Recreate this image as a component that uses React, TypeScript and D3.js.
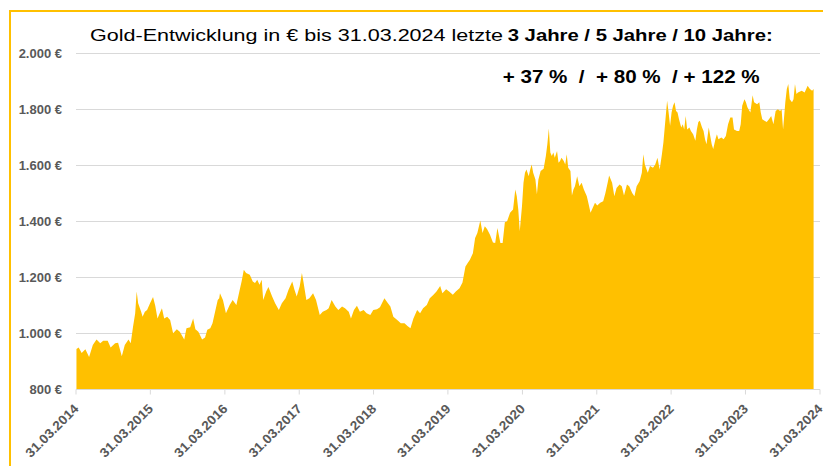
import React from "react";
import * as d3 from "d3";

// Gold price in EUR per ounce, [decimal year, price]
const goldSeries: [number, number][] = [
  [2014.25, 945], [2014.28, 950], [2014.32, 930], [2014.37, 944], [2014.42, 916], [2014.47, 959],
  [2014.52, 979], [2014.57, 965], [2014.61, 974], [2014.67, 974], [2014.71, 950], [2014.77, 965],
  [2014.81, 967], [2014.86, 919], [2014.90, 959], [2014.95, 979], [2014.98, 965], [2015.01, 1022],
  [2015.04, 1072], [2015.06, 1150], [2015.08, 1108], [2015.12, 1078], [2015.14, 1060], [2015.17, 1078],
  [2015.20, 1084], [2015.24, 1108], [2015.28, 1130], [2015.31, 1099], [2015.34, 1054], [2015.37, 1072],
  [2015.40, 1090], [2015.43, 1054], [2015.47, 1060], [2015.51, 1048], [2015.55, 1001], [2015.60, 1015],
  [2015.64, 1006], [2015.70, 979], [2015.73, 1019], [2015.78, 1022], [2015.82, 1054], [2015.85, 1015],
  [2015.89, 1006], [2015.94, 979], [2015.98, 986], [2016.01, 1013], [2016.05, 1019], [2016.08, 1037],
  [2016.11, 1072], [2016.15, 1120], [2016.17, 1126], [2016.18, 1144], [2016.22, 1120], [2016.26, 1072],
  [2016.31, 1102], [2016.35, 1120], [2016.40, 1102], [2016.44, 1150], [2016.47, 1186], [2016.50, 1228],
  [2016.53, 1216], [2016.58, 1210], [2016.62, 1186], [2016.65, 1180], [2016.68, 1192], [2016.71, 1174],
  [2016.74, 1192], [2016.76, 1120], [2016.80, 1150], [2016.83, 1166], [2016.88, 1132], [2016.92, 1108],
  [2016.97, 1084], [2017.01, 1108], [2017.06, 1126], [2017.10, 1156], [2017.15, 1186], [2017.18, 1156],
  [2017.21, 1132], [2017.25, 1168], [2017.28, 1216], [2017.30, 1186], [2017.34, 1120], [2017.38, 1126],
  [2017.43, 1144], [2017.47, 1120], [2017.52, 1066], [2017.56, 1078], [2017.61, 1084], [2017.64, 1090],
  [2017.68, 1120], [2017.73, 1096], [2017.77, 1084], [2017.82, 1096], [2017.86, 1090], [2017.91, 1078],
  [2017.94, 1054], [2017.98, 1084], [2018.02, 1099], [2018.06, 1078], [2018.11, 1084], [2018.15, 1072],
  [2018.20, 1066], [2018.24, 1084], [2018.29, 1087], [2018.33, 1094], [2018.39, 1126], [2018.43, 1111],
  [2018.47, 1096], [2018.51, 1060], [2018.57, 1046], [2018.61, 1037], [2018.66, 1037], [2018.70, 1027],
  [2018.74, 1019], [2018.78, 1054], [2018.83, 1084], [2018.87, 1072], [2018.91, 1090], [2018.96, 1102],
  [2019.00, 1126], [2019.05, 1138], [2019.09, 1150], [2019.14, 1170], [2019.17, 1144], [2019.22, 1158],
  [2019.26, 1150], [2019.31, 1138], [2019.35, 1150], [2019.40, 1162], [2019.44, 1182], [2019.48, 1239],
  [2019.51, 1252], [2019.54, 1263], [2019.58, 1287], [2019.61, 1341], [2019.64, 1359], [2019.68, 1404],
  [2019.71, 1359], [2019.74, 1383], [2019.77, 1373], [2019.81, 1353], [2019.85, 1325], [2019.88, 1323],
  [2019.91, 1377], [2019.95, 1323], [2019.98, 1323], [2020.01, 1397], [2020.04, 1401], [2020.08, 1431],
  [2020.12, 1443], [2020.15, 1514], [2020.17, 1490], [2020.19, 1443], [2020.21, 1365], [2020.24, 1455],
  [2020.26, 1538], [2020.28, 1574], [2020.30, 1586], [2020.33, 1562], [2020.35, 1586], [2020.37, 1604],
  [2020.39, 1574], [2020.42, 1550], [2020.44, 1497], [2020.46, 1550], [2020.49, 1580], [2020.53, 1588],
  [2020.56, 1634], [2020.58, 1676], [2020.60, 1732], [2020.62, 1646], [2020.64, 1634], [2020.66, 1646],
  [2020.68, 1628], [2020.71, 1652], [2020.73, 1610], [2020.75, 1616], [2020.77, 1628], [2020.80, 1616],
  [2020.82, 1604], [2020.84, 1640], [2020.86, 1592], [2020.89, 1580], [2020.91, 1493], [2020.93, 1514],
  [2020.95, 1526], [2020.98, 1562], [2021.01, 1526], [2021.04, 1538], [2021.07, 1514], [2021.11, 1490],
  [2021.13, 1467], [2021.16, 1431], [2021.19, 1449], [2021.22, 1467], [2021.25, 1457], [2021.29, 1467],
  [2021.33, 1472], [2021.36, 1502], [2021.39, 1538], [2021.41, 1564], [2021.45, 1538], [2021.48, 1490],
  [2021.51, 1520], [2021.55, 1532], [2021.58, 1526], [2021.61, 1493], [2021.65, 1532], [2021.68, 1526],
  [2021.72, 1502], [2021.75, 1490], [2021.78, 1526], [2021.82, 1544], [2021.85, 1574], [2021.87, 1640],
  [2021.89, 1604], [2021.93, 1574], [2021.96, 1598], [2022.00, 1592], [2022.03, 1604], [2022.06, 1628],
  [2022.09, 1586], [2022.12, 1640], [2022.14, 1682], [2022.16, 1742], [2022.19, 1831], [2022.21, 1789],
  [2022.23, 1742], [2022.25, 1789], [2022.27, 1813], [2022.29, 1826], [2022.31, 1795], [2022.33, 1789],
  [2022.35, 1765], [2022.38, 1736], [2022.40, 1747], [2022.42, 1729], [2022.44, 1777], [2022.46, 1729],
  [2022.49, 1736], [2022.51, 1723], [2022.54, 1712], [2022.57, 1688], [2022.59, 1729], [2022.61, 1755],
  [2022.63, 1760], [2022.66, 1736], [2022.68, 1723], [2022.70, 1694], [2022.72, 1676], [2022.75, 1736],
  [2022.77, 1705], [2022.79, 1676], [2022.81, 1659], [2022.84, 1694], [2022.86, 1712], [2022.88, 1694],
  [2022.92, 1700], [2022.95, 1694], [2022.98, 1705], [2023.01, 1747], [2023.04, 1771], [2023.07, 1771],
  [2023.09, 1729], [2023.13, 1723], [2023.16, 1723], [2023.18, 1747], [2023.20, 1813], [2023.23, 1837],
  [2023.25, 1826], [2023.27, 1808], [2023.31, 1789], [2023.34, 1851], [2023.36, 1826], [2023.40, 1819],
  [2023.43, 1826], [2023.45, 1789], [2023.47, 1765], [2023.50, 1760], [2023.53, 1755], [2023.56, 1765],
  [2023.59, 1777], [2023.62, 1747], [2023.65, 1795], [2023.68, 1801], [2023.71, 1795], [2023.73, 1801],
  [2023.75, 1729], [2023.78, 1826], [2023.80, 1873], [2023.82, 1891], [2023.84, 1837], [2023.87, 1826],
  [2023.89, 1837], [2023.91, 1891], [2023.93, 1855], [2023.95, 1861], [2024.00, 1867], [2024.04, 1861],
  [2024.08, 1885], [2024.11, 1873], [2024.14, 1867], [2024.16, 1873],
];

const yTicks = [800, 1000, 1200, 1400, 1600, 1800, 2000];
const xTickYears = [2014, 2015, 2016, 2017, 2018, 2019, 2020, 2021, 2022, 2023, 2024];
const titleRegular = "Gold-Entwicklung in € bis 31.03.2024 letzte";
const titleBold = "3 Jahre / 5 Jahre / 10 Jahre:";
const subtitle = "+ 37 %  /  + 80 %  / + 122 %";

const GOLD = "#FFC000";
const GRID = "#d9d9d9";
const LABEL = "#595959";
const FONT = "'Liberation Sans', Arial, sans-serif";

function decimalYearToDate(v: number): Date {
  const yr = Math.floor(v);
  const start = Date.UTC(yr, 0, 1);
  const end = Date.UTC(yr + 1, 0, 1);
  return new Date(start + (v - yr) * (end - start));
}

const deLocale = d3.formatLocale({ decimal: ",", thousands: ".", grouping: [3], currency: ["", " €"] });
const fmtEuro = (v: number) => deLocale.format(",")(v) + " €";
const fmtDate = d3.utcFormat("%d.%m.%Y");

export default function App() {
  const W = 823;
  const H = 466;
  const x = d3
    .scaleUtc()
    .domain([new Date(Date.UTC(2014, 2, 31)), new Date(Date.UTC(2024, 2, 31))])
    .range([76, 820]);
  const y = d3.scaleLinear().domain([800, 2000]).range([389.5, 53.5]);

  const area = d3
    .area<[number, number]>()
    .x((d) => x(decimalYearToDate(d[0])))
    .y0(y(800))
    .y1((d) => y(d[1]));

  const tickDates = xTickYears.map((yr) => new Date(Date.UTC(yr, 2, 31)));
  const [x0, x1] = x.range();

  return (
    <svg
      width={W}
      height={H}
      style={{ position: "absolute", left: 0, top: 0, background: "#fff" }}
      fontFamily={FONT}
    >
      <rect x={10} y={11} width={W + 20} height={H + 20} fill="none" stroke={GOLD} strokeWidth={2} />

      {yTicks.slice(1).map((v) => (
        <line key={v} x1={x0} x2={x1} y1={y(v)} y2={y(v)} stroke={GRID} strokeWidth={1} />
      ))}

      <path d={area(goldSeries) || ""} fill={GOLD} />

      <line x1={x0} x2={x1} y1={y(800)} y2={y(800)} stroke={GRID} strokeWidth={1} />
      {tickDates.map((d, i) => (
        <line key={i} x1={x(d)} x2={x(d)} y1={y(800)} y2={y(800) + 5} stroke={GRID} strokeWidth={1} />
      ))}

      {yTicks.map((v) => (
        <text key={v} x={62} y={y(v) + 4.5} textAnchor="end" fontSize={13} fontWeight="bold" fill={LABEL}>
          {fmtEuro(v)}
        </text>
      ))}

      {tickDates.map((d, i) => (
        <text
          key={i}
          transform={`translate(${x(d) + 3.5},${409.5}) rotate(-45)`}
          textAnchor="end"
          fontSize={13}
          fontWeight="bold"
          fill={LABEL}
          textLength={69}
          lengthAdjust="spacingAndGlyphs"
        >
          {fmtDate(d)}
        </text>
      ))}

      <text x={90} y={40.7} fontSize={17} fill="#000" textLength={413} lengthAdjust="spacingAndGlyphs">
        {titleRegular}
      </text>
      <text
        x={507.7}
        y={40.7}
        fontSize={17}
        fontWeight="bold"
        fill="#000"
        textLength={265}
        lengthAdjust="spacingAndGlyphs"
      >
        {titleBold}
      </text>
      <text
        x={502.7}
        y={83.3}
        fontSize={18}
        fontWeight="bold"
        fill="#000"
        style={{ whiteSpace: "pre" }}
        textLength={257}
        lengthAdjust="spacingAndGlyphs"
      >
        {subtitle}
      </text>
    </svg>
  );
}
